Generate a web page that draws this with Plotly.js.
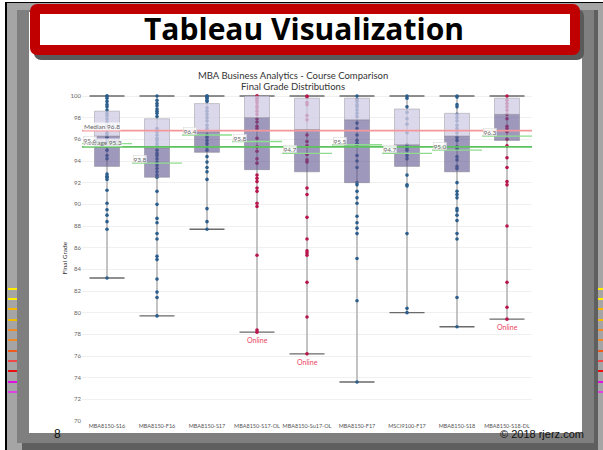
<!DOCTYPE html>
<html><head><meta charset="utf-8">
<script src="https://cdn.plot.ly/plotly-3.0.1.min.js"></script>
<style>
body{margin:0;width:603px;height:450px;overflow:hidden;position:relative;background:#fff}
.r{position:absolute}
#chart{position:absolute;left:0;top:0;width:603px;height:450px}
</style></head><body>
<div class="r" style="left:5px;top:2px;width:598px;height:448px;background:#000"></div>
<div class="r" style="left:7px;top:3px;width:596px;height:447px;background:#a5a5a5"></div>
<div class="r" style="left:17px;top:10px;width:577px;height:433px;background:#7f7f7f"></div>
<div class="r" style="left:594px;top:10px;width:4px;height:440px;background:#5f5f5f"></div>
<div class="r" style="left:22px;top:443px;width:576px;height:7px;background:#5f5f5f"></div>
<div class="r" style="left:29px;top:12px;width:553px;height:421px;background:#fff"></div>
<div class="r" style="left:30px;top:4px;width:550px;height:51px;box-sizing:border-box;border:10px solid #c00000;border-radius:7px;background:#fff;box-shadow:4px 5px 0 #5a5a5a"></div>
<div id="marks"></div>
<div id="chart"></div>
<script>
// ---- data ----
var categories = ['MBA8150-S16','MBA8150-F16','MBA8150-S17','MBA8150-S17-OL','MBA8150-Su17-OL','MBA8150-F17','MSCI9100-F17','MBA8150-S18','MBA8150-S18-DL'];
var online = [false,false,false,true,true,false,false,false,true];
var gMin    = [83.2, 79.7, 87.7, 78.2, 76.2, 73.6, 80.0, 78.7, 79.4];
var gQ1     = [93.5, 92.5, 94.8, 93.2, 93.0, 92.0, 93.5, 93.0, 95.9];
var gMedian = [96.3, 95.2, 96.7, 98.0, 96.9, 97.8, 95.5, 96.3, 98.3];
var gQ3     = [98.6, 97.9, 99.3, 100, 99.8, 99.8, 98.8, 98.4, 99.8];
var gMax    = [100, 100, 100, 100, 100, 100, 100, 100, 100];
var gAvg    = [95.6, 93.8, 96.4, 95.8, 94.7, 95.5, 94.7, 95.0, 96.3];
var overallMedian = 96.8, overallAvg = 95.3;

var gS16 = [100,100,99.8,99.5,99.2,99.0,98.7,98.4,98.2,97.9,97.6,97.3,97.0,96.6,96.4,96.2,95.9,95.0,94.5,94.2,92.8,92.6,92.5,92.3,91.3,90.1,89.5,89.0,88.4,87.7,83.2];
var gF16 = [100,99.6,99.3,99.1,98.8,98.6,98.4,98.1,97.0,96.7,96.4,96.1,95.9,95.6,95.4,95.0,94.7,94.5,94.2,93.9,93.6,93.3,93.0,92.7,92.5,91.2,90.0,88.7,88.3,87.3,86.8,85.2,84.9,83.1,81.9,81.4,79.7];
var gS17 = [100,100,99.9,99.8,99.6,99.5,98.9,98.6,98.3,98.0,97.7,97.3,97.0,96.4,96.2,95.9,95.6,95.3,95.0,94.4,93.9,93.4,93.0,92.3,89.6,88.4,87.7];
var gS17OL = [100,100,99.8,99.6,99.4,99.1,98.9,98.6,98.3,97.9,97.6,97.2,97.0,96.1,95.3,94.9,94.2,93.8,92.7,92.4,92.1,91.5,91.2,90.1,89.8,85.3,78.4,78.2];
var gSu17OL = [100,99.9,99.4,99.2,98.2,97.8,96.4,95.8,95.4,94.6,94.1,93.9,91.5,90.9,88.8,86.8,85.7,85.5,85.3,82.8,79.6,76.2];
var gF17 = [100,99.7,99.5,99.2,99.0,98.7,98.4,98.1,97.5,97.0,96.4,95.9,95.6,95.5,94.5,94.0,93.4,92.0,91.8,91.2,90.6,90.1,88.9,88.3,87.8,87.3,85.0,81.1,73.6];
var gMSCI = [100,99.8,99.0,98.5,97.9,97.4,96.6,95.5,95.2,95.0,94.5,94.2,92.7,91.8,91.7,87.3,80.4,80.0];
var gS18 = [100,99.9,99.2,99.0,98.3,98.0,97.7,97.3,97.0,96.6,96.2,95.9,95.3,95.1,94.4,94.1,93.5,93.3,92.0,91.2,90.9,90.6,89.6,89.4,89.0,88.5,87.3,86.8,81.4,78.7];
var gS18DL = [100,99.6,99.3,99.0,98.7,98.3,97.9,97.2,97.0,96.7,96.0,95.4,94.3,93.4,92.1,91.8,88.0,82.8,80.5,79.4];
var grades = [gS16,gF16,gS17,gS17OL,gSu17OL,gF17,gMSCI,gS18,gS18DL];
var yTicks = [70,72,74,76,78,80,82,84,86,88,90,92,94,96,98,100];

// ---- decorative slide marks ----
var markColors = ['#ffee00','#ffee00','#f5b800','#f5b800','#f08a24','#f08a24','#f05a1e','#f04848','#e81010','#e010e0','#e040e0'];
var marksHtml = '';
markColors.forEach(function(c,k){
  var top = 287.5 + k*10.35;
  marksHtml += '<div class="r" style="left:8px;top:'+top+'px;width:9px;height:2px;background:'+c+'"></div>';
  marksHtml += '<div class="r" style="left:598px;top:'+top+'px;width:5px;height:2px;background:'+c+'"></div>';
});
document.getElementById('marks').innerHTML = marksHtml;

// ---- geometry helpers ----
var L = 82, R = 71, T = 93, B = 28, W = 603 - L - R, H = 450 - T - B;
function px(x){ return (x - L) / W; }
function py(y){ return (450 - B - y) / H; }
var yr = [69.908, 100.277];

var idx = categories.map(function(c,i){ return i; });
var blue = '#2c5e8c', crimson = '#b8174c';

var traces = [];
var wx = [], wy = [];
idx.forEach(function(i){ wx.push(i,i,null); wy.push(gMin[i], gMax[i], null); });
traces.push({type:'scatter', mode:'lines', x:wx, y:wy, line:{color:'#b4b4b4', width:1.6}, hoverinfo:'skip'});
traces.push({type:'scatter', mode:'markers', x:idx.concat(idx), y:gMin.concat(gMax),
  marker:{symbol:'line-ew', size:25, line:{color:'#6a6a6a', width:1.4}}, hoverinfo:'skip'});
idx.forEach(function(i){
  traces.push({type:'scatter', mode:'markers', x:grades[i].map(function(){return i;}), y:grades[i],
    marker:{size:3.6, color: online[i] ? crimson : blue}, name:categories[i]});
});
traces.push({type:'bar', x:idx, base:gQ1, y:idx.map(function(i){return gMedian[i]-gQ1[i];}), width:0.5,
  xaxis:'x2', yaxis:'y2', marker:{color:'rgba(95,83,145,0.6)', line:{color:'rgba(120,120,130,0.55)', width:0.8}}, hoverinfo:'skip'});
traces.push({type:'bar', x:idx, base:gMedian, y:idx.map(function(i){return gQ3[i]-gMedian[i];}), width:0.5,
  xaxis:'x2', yaxis:'y2', marker:{color:'rgba(210,204,230,0.77)', line:{color:'rgba(140,140,150,0.55)', width:0.8}}, hoverinfo:'skip'});
var ax = [], ay = [];
idx.forEach(function(i){ ax.push(i-0.5, i+0.5, null); ay.push(gAvg[i], gAvg[i], null); });
traces.push({type:'scatter', mode:'lines', x:ax, y:ay, xaxis:'x2', yaxis:'y2', line:{color:'#8edc8e', width:1.4}, hoverinfo:'skip'});
traces.push({type:'scatter', mode:'lines', x:[-0.5,8.5], y:[overallMedian,overallMedian], xaxis:'x2', yaxis:'y2', line:{color:'#f4979a', width:1.6}, hoverinfo:'skip'});
traces.push({type:'scatter', mode:'lines', x:[-0.5,8.5], y:[overallAvg,overallAvg], xaxis:'x2', yaxis:'y2', line:{color:'#5cc25c', width:1.8}, hoverinfo:'skip'});

var ann = [];
var tf = 'Lato, "Open Sans", sans-serif';
function txt(x, y, text, font, extra){
  var a = {xref:'paper', yref:'paper', x:px(x), y:py(y), xanchor:'center', yanchor:'middle', text:text, showarrow:false, font:font};
  if (extra) for (var k in extra) a[k] = extra[k];
  ann.push(a);
}
txt(303.5, 28.5, '<b>Tableau Visualization</b>', {family:'"Liberation Sans Narrow", "Open Sans", sans-serif', size:30, color:'#000'});
txt(293, 75, 'MBA Business Analytics - Course Comparison', {family:tf, size:9.5, color:'#333'});
txt(293, 86.5, 'Final Grade Distributions', {family:tf, size:9.5, color:'#333'});
txt(63.5, 258, 'Final Grade', {family:tf, size:6.5, color:'#333'}, {textangle:-90});
txt(57, 433.5, '8', {family:'"Liberation Sans", Arial, sans-serif', size:12, color:'#111'});
txt(541.5, 433.5, '© 2018 rjerz.com', {family:'"Liberation Sans", Arial, sans-serif', size:11, color:'#111'});
ann.push({xref:'x2', yref:'y2', x:-0.49, y:overallMedian, xanchor:'left', yanchor:'bottom', text:'Median '+overallMedian.toFixed(1), showarrow:false,
  font:{family:tf, size:6.5, color:'#666'}, bgcolor:'rgba(255,255,255,0.75)', borderpad:0});
ann.push({xref:'x2', yref:'y2', x:-0.49, y:overallAvg, xanchor:'left', yanchor:'bottom', text:'Average '+overallAvg.toFixed(1), showarrow:false,
  font:{family:tf, size:6.5, color:'#666'}, bgcolor:'rgba(255,255,255,0.75)', borderpad:0});
idx.forEach(function(i){
  ann.push({xref:'x2', yref:'y2', x:i-0.48, y:gAvg[i], xanchor:'left', yanchor:'bottom', text:gAvg[i].toFixed(1), showarrow:false,
    font:{family:tf, size:6.5, color:'#666'}, bgcolor:'rgba(255,255,255,0.8)', bordercolor:'rgba(200,200,200,0.8)', borderwidth:0.5, borderpad:0});
  if (online[i]) ann.push({xref:'x2', yref:'y2', x:i, y:gMin[i], yshift:-8, xanchor:'center', yanchor:'middle', text:'Online', showarrow:false,
    font:{family:tf, size:7, color:'#ec3f5c'}});
});

var layout = {
  width:603, height:450, margin:{l:L, r:R, t:T, b:B, pad:0},
  paper_bgcolor:'rgba(0,0,0,0)', plot_bgcolor:'rgba(0,0,0,0)', showlegend:false,
  font:{family:tf, color:'#666', size:7}, barmode:'overlay',
  xaxis:{range:[-0.5,8.5], tickmode:'array', tickvals:idx, ticktext:categories, showgrid:false, zeroline:false,
    ticks:'', tickangle:0, tickfont:{family:tf, size:5.5, color:'#555'}, ticklabelstandoff:-1, fixedrange:true},
  yaxis:{range:yr, tickmode:'array', tickvals:yTicks, ticktext:yTicks.map(String), gridcolor:'#f0f0f0', gridwidth:1, zeroline:false,
    ticks:'', tickfont:{family:tf, size:6, color:'#666'}, fixedrange:true},
  xaxis2:{overlaying:'x', anchor:'y2', range:[-0.5,8.5], visible:false},
  yaxis2:{overlaying:'y', anchor:'x2', range:yr, visible:false},
  annotations:ann
};
Plotly.newPlot('chart', traces, layout, {staticPlot:true, displayModeBar:false});
</script>
</body></html>
